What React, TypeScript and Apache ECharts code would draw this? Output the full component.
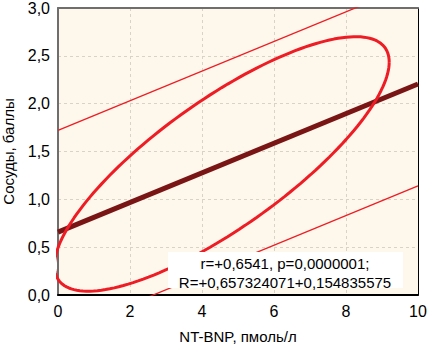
import React, { useEffect, useRef } from "react";
import * as echarts from "echarts";

// Axis ticks
const xTicks = [0, 2, 4, 6, 8, 10];
const yTicks = [0, 0.5, 1.0, 1.5, 2.0, 2.5, 3.0];

// Regression line R = 0.657324071 + 0.154835575 * x (endpoints at x = 0 and x = 10)
const regressionLine: [number, number][] = [
  [0, 0.657],
  [10, 2.206],
];
// Upper and lower prediction limits
const upperLimit: [number, number][] = [
  [0, 1.72],
  [10, 3.27],
];
const lowerLimit: [number, number][] = [
  [0, -0.41],
  [10, 1.14],
];

// Confidence ellipse parameters
const ellipseCenter = [4.55, 1.37];
const ellipseSpread = [4.65, 1.33];
const ellipseRho = 0.8;

const statLines = ["r=+0,6541, p=0,0000001;", "R=+0,657324071+0,154835575"];

const xName = "NT-BNP, пмоль/л";
const yName = "Сосуды, баллы";

function ellipsePoints(): [number, number][] {
  const pts: [number, number][] = [];
  const n = 180;
  const s = Math.sqrt(1 - ellipseRho * ellipseRho);
  for (let i = 0; i <= n; i++) {
    const t = (i / n) * Math.PI * 2;
    pts.push([
      ellipseCenter[0] + ellipseSpread[0] * Math.cos(t),
      ellipseCenter[1] + ellipseSpread[1] * (ellipseRho * Math.cos(t) + s * Math.sin(t)),
    ]);
  }
  return pts;
}

const FONT = "'Liberation Sans', Arial, sans-serif";

export default function App() {
  const ref = useRef<HTMLDivElement>(null);
  useEffect(() => {
    if (!ref.current) return;
    const chart = echarts.init(ref.current, undefined, { renderer: "svg" });
    const fmt = (v: number) => v.toFixed(1).replace(".", ",");
    chart.setOption({
      animation: false,
      backgroundColor: "#ffffff",
      grid: {
        left: 58,
        top: 8,
        width: 360,
        height: 287,
        show: true,
        backgroundColor: "#fdf8eb",
        borderWidth: 0,
        containLabel: false,
        outerBoundsMode: "none",
      },
      xAxis: [
        {
          type: "value",
          min: xTicks[0],
          max: xTicks[xTicks.length - 1],
          interval: 2,
          position: "bottom",
          name: xName,
          nameLocation: "middle",
          nameGap: 34,
          nameTextStyle: { color: "#000", fontSize: 15, fontFamily: FONT },
          axisLine: { show: true, lineStyle: { color: "#000", width: 2 } },
          axisTick: { show: false },
          axisLabel: { color: "#000", fontSize: 16, fontFamily: FONT, margin: 8 },
          splitLine: { show: true, lineStyle: { color: "#d9d3c6", type: [3, 3], width: 1 } },
        },
        {
          type: "value",
          min: 0,
          max: 10,
          position: "top",
          axisLine: { show: true, onZero: false, lineStyle: { color: "#6e6e6e", width: 2 } },
          axisTick: { show: false },
          axisLabel: { show: false },
          splitLine: { show: false },
        },
      ],
      yAxis: [
        {
          type: "value",
          min: yTicks[0],
          max: yTicks[yTicks.length - 1],
          interval: 0.5,
          position: "left",
          name: yName,
          nameLocation: "middle",
          nameGap: 42,
          nameTextStyle: {
            color: "#000",
            fontSize: 15,
            fontFamily: FONT,
            padding: [0, 0, 0, 0],
          },
          axisLine: { show: true, onZero: false, lineStyle: { color: "#6e6e6e", width: 2 } },
          axisTick: { show: false },
          axisLabel: { color: "#000", fontSize: 16, fontFamily: FONT, margin: 8, formatter: fmt },
          splitLine: { show: true, lineStyle: { color: "#d9d3c6", type: [3, 3], width: 1 } },
        },
        {
          type: "value",
          min: 0,
          max: 3,
          position: "right",
          axisLine: { show: true, onZero: false, lineStyle: { color: "#000", width: 1 } },
          axisTick: { show: false },
          axisLabel: { show: false },
          splitLine: { show: false },
        },
      ],
      series: [
        {
          type: "line",
          data: upperLimit,
          symbol: "none",
          clip: true,
          lineStyle: { color: "#ee1c24", width: 1.3 },
          z: 2,
        },
        {
          type: "line",
          data: lowerLimit,
          symbol: "none",
          clip: true,
          lineStyle: { color: "#ee1c24", width: 1.3 },
          z: 2,
        },
        {
          type: "line",
          data: regressionLine,
          symbol: "none",
          clip: true,
          lineStyle: { color: "#7a1515", width: 5 },
          z: 3,
        },
        {
          type: "line",
          data: ellipsePoints(),
          symbol: "none",
          clip: true,
          smooth: false,
          lineStyle: { color: "#ee1c24", width: 3 },
          z: 4,
        },
      ],
      graphic: [
        {
          type: "rect",
          z: 100,
          shape: { x: 168, y: 252, width: 235, height: 36 },
          style: { fill: "#ffffff" },
        },
        {
          type: "text",
          z: 101,
          x: 285,
          y: 263,
          style: {
            text: statLines[0],
            fill: "#000",
            font: `15px ${FONT}`,
            align: "center",
            verticalAlign: "middle",
          },
        },
        {
          type: "text",
          z: 101,
          x: 285,
          y: 282,
          style: {
            text: statLines[1],
            fill: "#000",
            font: `15px ${FONT}`,
            align: "center",
            verticalAlign: "middle",
          },
        },
      ],
    });
    return () => chart.dispose();
  }, []);
  return (
    <div
      ref={ref}
      style={{ position: "fixed", left: 0, top: 0, width: 443, height: 354 }}
    />
  );
}
